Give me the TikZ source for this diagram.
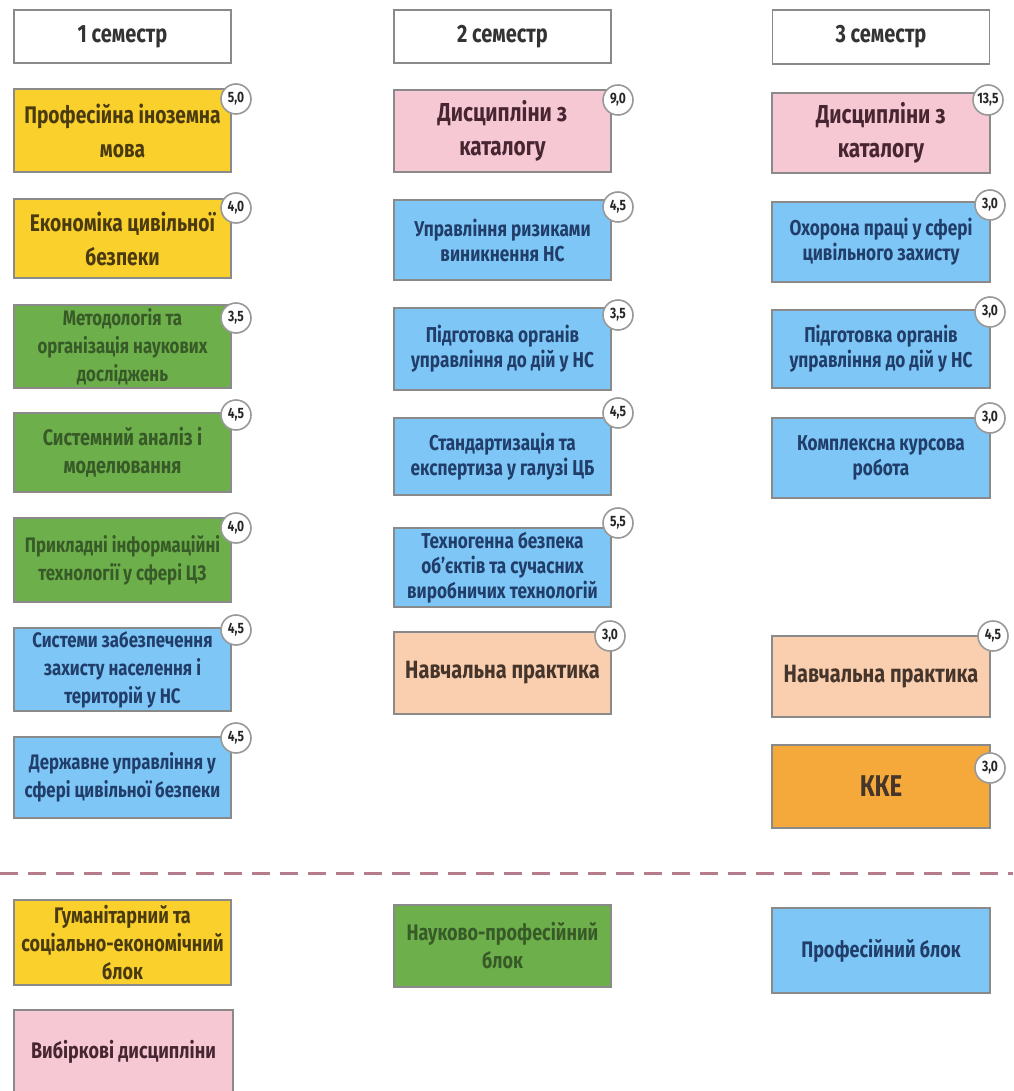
\documentclass[tikz,border=0pt]{standalone}
\usepackage{fontspec}
\setmainfont{Fira Sans}[FakeStretch=0.8]
\usetikzlibrary{positioning}
\definecolor{cyel}{HTML}{FAD02C}
\definecolor{cgrn}{HTML}{6DAF4A}
\definecolor{cblu}{HTML}{7EC6F6}
\definecolor{cpnk}{HTML}{F5C8D4}
\definecolor{cpch}{HTML}{F9CFB0}
\definecolor{corg}{HTML}{F5A93A}
\definecolor{cbrd}{HTML}{8A8A8A}
\definecolor{tyel}{HTML}{4A3A10}
\definecolor{tgrn}{HTML}{375A28}
\definecolor{tblu}{HTML}{213D69}
\definecolor{tpnk}{HTML}{472631}
\definecolor{tpch}{HTML}{45352B}
\definecolor{tdash}{HTML}{B57D8C}
\tikzset{
  cell/.style={draw=cbrd, line width=1.2pt, rectangle, inner sep=0pt, align=center, font=\bfseries},
  head/.style={cell, fill=white, line width=1.6pt, text=black!80, font=\bfseries\fontsize{25}{28}\selectfont},
  yel/.style={cell, fill=cyel, text=tyel},
  grn/.style={cell, fill=cgrn, text=tgrn},
  blu/.style={cell, fill=cblu, text=tblu},
  pnk/.style={cell, fill=cpnk, text=tpnk},
  pch/.style={cell, fill=cpch, text=tpch},
  org/.style={cell, fill=corg, text=tpch},
  badge/.style={circle, fill=white, draw=black!40, line width=1.6pt, minimum size=30pt, inner sep=0pt, text=black!85, font=\bfseries\fontsize{15}{15}\selectfont},
  fbig/.style={font=\bfseries\fontsize{24}{34}\selectfont},
  fcat/.style={font=\bfseries\fontsize{26}{34}\selectfont},
  fprac/.style={font=\bfseries\fontsize{25}{30}\selectfont},
  fkke/.style={font=\bfseries\fontsize{30}{34}\selectfont},
  fone/.style={font=\bfseries\fontsize{21}{28}\selectfont},
  fonep/.style={font=\bfseries\fontsize{22.5}{28}\selectfont},
  ftwo/.style={font=\bfseries\fontsize{21.5}{25}\selectfont},
  fleg/.style={font=\bfseries\fontsize{22.5}{28}\selectfont},
}
\begin{document}
\begin{tikzpicture}[x=1pt,y=-1pt]
\useasboundingbox (0,0) rectangle (1013,1091);
\fill[white] (0,0) rectangle (1013,1091);
% headers
\node[head, minimum width=217pt, minimum height=53pt] (h1) at (122.5,36.5) {1 семестр};
\node[head, minimum width=217pt, minimum height=53pt] (h2) at (502.5,36.5) {2 семестр};
\node[head, minimum width=217pt, minimum height=54pt] (h3) at (881,37) {3 семестр};
% column 1
\node[yel, fbig, minimum width=217pt, minimum height=83pt] (c1a) at (122.5,130.5) {Професійна іноземна\\мова};
\node[yel, fbig, minimum width=217pt, minimum height=79pt] (c1b) at (122.5,238.5) {Економіка цивільної\\безпеки};
\node[grn, fone, minimum width=217pt, minimum height=83pt] (c1c) at (122.5,346.5) {Методологія та\\організація наукових\\досліджень};
\node[grn, fonep, minimum width=217pt, minimum height=79pt] (c1d) at (122.5,452.5) {Системний аналіз і\\моделювання};
\node[grn, fone, minimum width=217pt, minimum height=84pt] (c1e) at (122.5,560) {Прикладні інформаційні\\технології у сфері ЦЗ};
\node[blu, fone, minimum width=217pt, minimum height=83pt] (c1f) at (122.5,669.5) {Системи забезпечення\\захисту населення і\\територій у НС};
\node[blu, fone, minimum width=217pt, minimum height=81pt] (c1g) at (122.5,777.5) {Державне управління у\\сфері цивільної безпеки};
\node[badge] (b1a) at (236,99) {5,0};
\node[badge] (b1b) at (236,208) {4,0};
\node[badge] (b1c) at (236,318) {3,5};
\node[badge] (b1d) at (236,415) {4,5};
\node[badge] (b1e) at (236,528) {4,0};
\node[badge] (b1f) at (236,630) {4,5};
\node[badge] (b1g) at (236,738) {4,5};
% column 2
\node[pnk, fcat, minimum width=217pt, minimum height=82pt] (c2a) at (502.5,131) {Дисципліни з\\каталогу};
\node[blu, ftwo, minimum width=217pt, minimum height=80pt] (c2b) at (502.5,240) {Управління ризиками\\виникнення НС};
\node[blu, ftwo, minimum width=217pt, minimum height=82pt] (c2c) at (502.5,349) {Підготовка органів\\управління до дій у НС};
\node[blu, ftwo, minimum width=217pt, minimum height=77pt] (c2d) at (502.5,456.5) {Стандартизація та\\експертиза у галузі ЦБ};
\node[blu, ftwo, minimum width=217pt, minimum height=79pt] (c2e) at (502.5,567.5) {Техногенна безпека\\об’єктів та сучасних\\виробничих технологій};
\node[pch, fprac, minimum width=217pt, minimum height=82pt] (c2f) at (502.5,673) {Навчальна практика};
\node[badge] (b2a) at (618,100) {9,0};
\node[badge] (b2b) at (618,207) {4,5};
\node[badge] (b2c) at (618,315) {3,5};
\node[badge] (b2d) at (618,413) {4,5};
\node[badge] (b2e) at (618,523) {5,5};
\node[badge] (b2f) at (610,636) {3,0};
% column 3
\node[pnk, fcat, minimum width=218pt, minimum height=80pt] (c3a) at (881,133) {Дисципліни з\\каталогу};
\node[blu, ftwo, minimum width=218pt, minimum height=80pt] (c3b) at (881,242) {Охорона праці у сфері\\цивільного захисту};
\node[blu, ftwo, minimum width=218pt, minimum height=78pt] (c3c) at (881,349) {Підготовка органів\\управління до дій у НС};
\node[blu, ftwo, minimum width=218pt, minimum height=80pt] (c3d) at (881,458) {Комплексна курсова\\робота};
\node[pch, fprac, minimum width=218pt, minimum height=81pt] (c3e) at (881,676.5) {Навчальна практика};
\node[org, fkke, minimum width=218pt, minimum height=83pt] (c3f) at (881,786.5) {ККЕ};
\node[badge] (b3a) at (988,100) {13,5};
\node[badge] (b3b) at (990,205) {3,0};
\node[badge] (b3c) at (990,312) {3,0};
\node[badge] (b3d) at (990,418) {3,0};
\node[badge] (b3e) at (993,636) {4,5};
\node[badge] (b3f) at (990,768) {3,0};
% separator
\coordinate (dl) at (0,873);
\coordinate (dr) at (1013,873);
\draw[tdash, line width=3pt, dash pattern=on 18pt off 10pt] (dl) -- (dr);
% legend
\node[yel, fleg, minimum width=217pt, minimum height=85pt] (l1) at (122.5,942.5) {Гуманітарний та\\соціально-економічний\\блок};
\node[grn, fleg, minimum width=217pt, minimum height=82pt] (l2) at (502.5,946) {Науково-професійний\\блок};
\node[blu, fleg, minimum width=218pt, minimum height=85pt] (l3) at (881,950.5) {Професійний блок};
\node[pnk, fleg, minimum width=219pt, minimum height=84pt] (l4) at (123.5,1052) {Вибіркові дисципліни};
\end{tikzpicture}
\end{document}
